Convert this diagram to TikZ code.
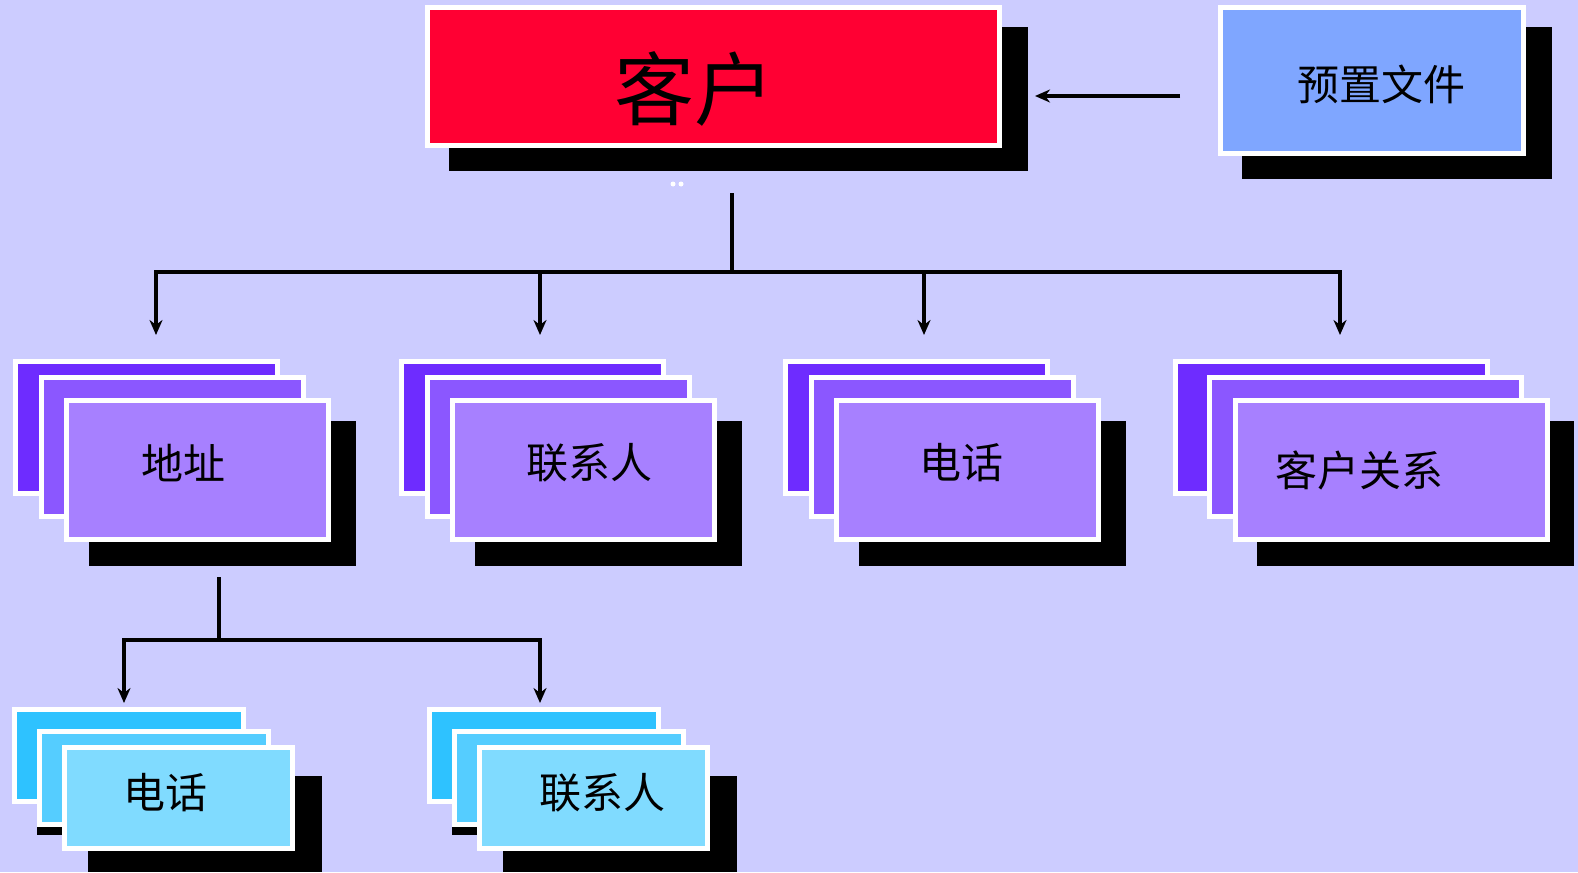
\documentclass[tikz,border=0pt]{standalone}
\usepackage{fontspec}
\newfontfamily\cjk{Noto Sans CJK SC}
\usetikzlibrary{arrows.meta}
\definecolor{bg}{HTML}{CCCCFF}
\definecolor{redbox}{HTML}{FF0033}
\definecolor{bluebox}{HTML}{7FA6FF}
\definecolor{pA}{HTML}{6E2CFF}
\definecolor{pB}{HTML}{8B57FF}
\definecolor{pC}{HTML}{A780FF}
\definecolor{cA}{HTML}{2EC2FF}
\definecolor{cB}{HTML}{55CDFF}
\definecolor{cC}{HTML}{80DBFF}
\tikzset{
  cardbox/.style 2 args={draw=white, line width=5pt, anchor=north west, inner sep=0pt, outer sep=2.5pt,
     minimum width={(#1-5)*1pt}, minimum height={(#2-5)*1pt}},
  shadowbox/.style 2 args={fill=black, draw=none, anchor=north west, inner sep=0pt, outer sep=0pt,
     minimum width={#1*1pt}, minimum height={#2*1pt}},
  lbl/.style={font=\cjk\fontsize{42}{50}\selectfont, inner sep=0pt},
  conn/.style={line width=4.3pt, black},
  arr/.style={line width=4.3pt, black, -{Stealth[length=15pt,width=13pt]}},
}
% #1 name, #2 x0, #3 width, #4 middle offset, #5 front offset, #6 shadow offset
\newcommand\cardstack[6]{%
  \node[cardbox={#3}{137}, fill=pA] (#1b) at (#2,359) {};
  \node[cardbox={#3}{144}, fill=pB] (#1m) at ({#2+#4},375) {};
  \node[shadowbox={#3}{145}] (#1s) at ({#2+#6},421) {};
  \node[cardbox={#3}{144}, fill=pC] (#1f) at ({#2+#5},398) {};
}
\newcommand\smallstack[2]{%
  \node[cardbox={234}{97}, fill=cA] (#1b) at (#2,707) {};
  \node[shadowbox={234}{98}] (#1ms) at ({#2+25},737) {};
  \node[cardbox={234}{98}, fill=cB] (#1m) at ({#2+25},729) {};
  \node[shadowbox={234}{96}] (#1s) at ({#2+76},776) {};
  \node[cardbox={233}{106}, fill=cC] (#1f) at ({#2+50},745) {};
}
\begin{document}
\begin{tikzpicture}[x=1pt,y=-1pt]
\fill[bg] (0,0) rectangle (1578,872);
\useasboundingbox (0,0) rectangle (1578,872);

% top: customer box
\node[shadowbox={579}{144}] (kehus) at (449,27) {};
\node[cardbox={577}{143}, fill=redbox] (kehu) at (425,5) {};
\node[font=\cjk\fontsize{80}{96}\selectfont, inner sep=0pt] (kehut) at (694,89) {客户};

% profile box
\node[shadowbox={310}{152}] (pres) at (1242,27) {};
\node[cardbox={308}{151}, fill=bluebox] (pre) at (1218,5) {};
\node[lbl] (pret) at (1381,84) {预置文件};

% arrow from profile to customer
\coordinate (pa) at (1180,96);
\coordinate (pb) at (1035,96);
\draw[arr] (pa) -- (pb);

% tiny white dots
\fill[white] (673,184) circle (2.5);
\fill[white] (681,184) circle (2.5);

% second level stacks
\cardstack{g1}{13}{267}{26}{51}{76}
\cardstack{g2}{399}{267}{26}{51}{76}
\cardstack{g3}{783}{267}{26}{51}{76}
\cardstack{g4}{1173}{317}{34}{60}{84}
\node[lbl] (t1) at (183,463) {地址};
\node[lbl] (t2) at (589,463) {联系人};
\node[lbl] (t3) at (961,463) {电话};
\node[lbl] (t4) at (1359,470) {客户关系};

% connectors level 1
\coordinate (s0) at (732,193);
\coordinate (s1) at (732,272);
\coordinate (h1) at (156,272);
\coordinate (h2) at (540,272);
\coordinate (h3) at (924,272);
\coordinate (h4) at (1340,272);
\coordinate (a1) at (156,335);
\coordinate (a2) at (540,335);
\coordinate (a3) at (924,335);
\coordinate (a4) at (1340,335);
\draw[conn] (s0) -- (s1);
\draw[conn, line cap=rect] (h1) -- (h4);
\draw[arr] (h1) -- (a1);
\draw[arr] (h2) -- (a2);
\draw[arr] (h3) -- (a3);
\draw[arr] (h4) -- (a4);

% bottom stacks
\smallstack{b1}{12}
\smallstack{b2}{427}
\node[lbl] (t5) at (165,793) {电话};
\node[lbl] (t6) at (602,793) {联系人};

% connectors level 2
\coordinate (u0) at (219,577);
\coordinate (u1) at (219,640);
\coordinate (v1) at (124,640);
\coordinate (v2) at (540,640);
\coordinate (w1) at (124,703);
\coordinate (w2) at (540,703);
\draw[conn] (u0) -- (u1);
\draw[conn, line cap=rect] (v1) -- (v2);
\draw[arr] (v1) -- (w1);
\draw[arr] (v2) -- (w2);
\end{tikzpicture}
\end{document}
